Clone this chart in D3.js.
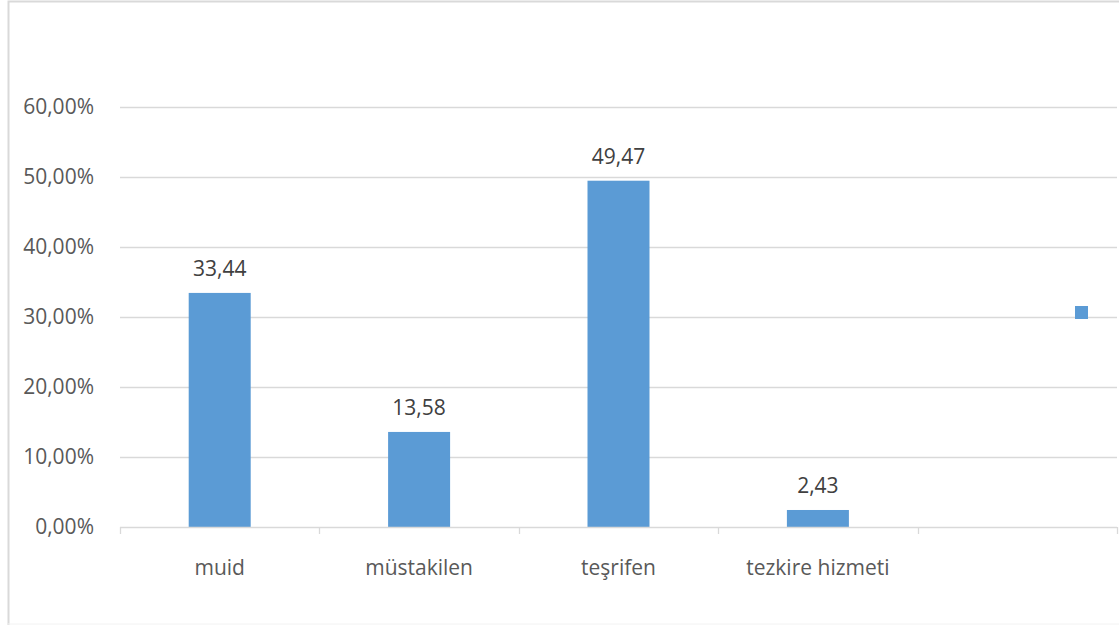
<!DOCTYPE html>
<html><head><meta charset="utf-8">
<script src="https://cdn.jsdelivr.net/npm/d3@7"></script>
<style>html,body{margin:0;padding:0;background:#fff;}svg{display:block;}</style>
</head><body>
<svg id="c" width="1119" height="625"></svg>
<script>
const categories = ["muid", "müstakilen", "teşrifen", "tezkire hizmeti", ""];
const values = [33.44, 13.58, 49.47, 2.43, null];
const dataLabels = ["33,44", "13,58", "49,47", "2,43", ""];
const yTicks = [0, 10, 20, 30, 40, 50, 60];
const yTickLabels = ["0,00%", "10,00%", "20,00%", "30,00%", "40,00%", "50,00%", "60,00%"];

(function () {
const svg = d3.select("#c");
const font = "'Open Sans', 'Liberation Sans', sans-serif";
const fs = 21;
const pLeft = 120, pRight = 1117, pTop = 107, pBottom = 527;

// outer border
svg.append("path").attr("d", "M8.5,625 V1.5 H1119").attr("fill", "none").attr("stroke", "#d9d9d9").attr("stroke-width", 2);
svg.append("line").attr("x1", 8).attr("x2", 1119).attr("y1", 624).attr("y2", 624).attr("stroke", "#f2f2f2");

const x = d3.scaleBand().domain(categories.map((c, i) => i)).range([pLeft, pRight]).paddingInner(0).paddingOuter(0);
const y = d3.scaleLinear().domain([0, 60]).range([pBottom, pTop]);

// gridlines
svg.append("g").selectAll("line").data(yTicks.slice(1)).join("line")
  .attr("x1", pLeft).attr("x2", pRight)
  .attr("y1", d => Math.round(y(d)) + 0.5).attr("y2", d => Math.round(y(d)) + 0.5)
  .attr("stroke", "#d9d9d9").attr("stroke-width", 1.3);

// y labels
svg.append("g").selectAll("text").data(yTicks).join("text")
  .attr("x", 94).attr("y", d => y(d)).attr("dy", "0.35em")
  .attr("text-anchor", "end").attr("fill", "#595959")
  .attr("font-family", font).attr("font-size", fs)
  .text((d, i) => yTickLabels[i]);

// bars
const bw = 62;
const barData = values.map((v, i) => ({v, i})).filter(d => d.v != null);
svg.append("g").selectAll("rect").data(barData).join("rect")
  .attr("x", d => x(d.i) + x.bandwidth() / 2 - bw / 2)
  .attr("width", bw)
  .attr("y", d => y(d.v))
  .attr("height", d => y(0) - y(d.v))
  .attr("fill", "#5b9bd5");

// x axis line and ticks
svg.append("line").attr("x1", pLeft).attr("x2", pRight).attr("y1", pBottom + 0.5).attr("y2", pBottom + 0.5)
  .attr("stroke", "#d9d9d9").attr("stroke-width", 1.3);
const bounds = categories.map((c, i) => x(i)).concat([pRight]);
svg.append("g").selectAll("line").data(bounds).join("line")
  .attr("x1", d => Math.round(d) + 0.5).attr("x2", d => Math.round(d) + 0.5)
  .attr("y1", pBottom).attr("y2", pBottom + 7)
  .attr("stroke", "#d9d9d9").attr("stroke-width", 1.3);

// x labels
svg.append("g").selectAll("text").data(categories).join("text")
  .attr("x", (d, i) => x(i) + x.bandwidth() / 2).attr("y", 568)
  .attr("dy", "0.35em").attr("text-anchor", "middle").attr("fill", "#595959")
  .attr("font-family", font).attr("font-size", fs)
  .text(d => d);

// data labels
svg.append("g").selectAll("text").data(barData).join("text")
  .attr("x", d => x(d.i) + x.bandwidth() / 2).attr("y", d => y(d.v) - 24)
  .attr("dy", "0.35em").attr("text-anchor", "middle").attr("fill", "#404040")
  .attr("font-family", font).attr("font-size", fs)
  .text(d => dataLabels[d.i]);

// legend marker (no text)
svg.append("rect").attr("x", 1075).attr("y", 306).attr("width", 13).attr("height", 13).attr("fill", "#5b9bd5");
})();
</script>
</body></html>
